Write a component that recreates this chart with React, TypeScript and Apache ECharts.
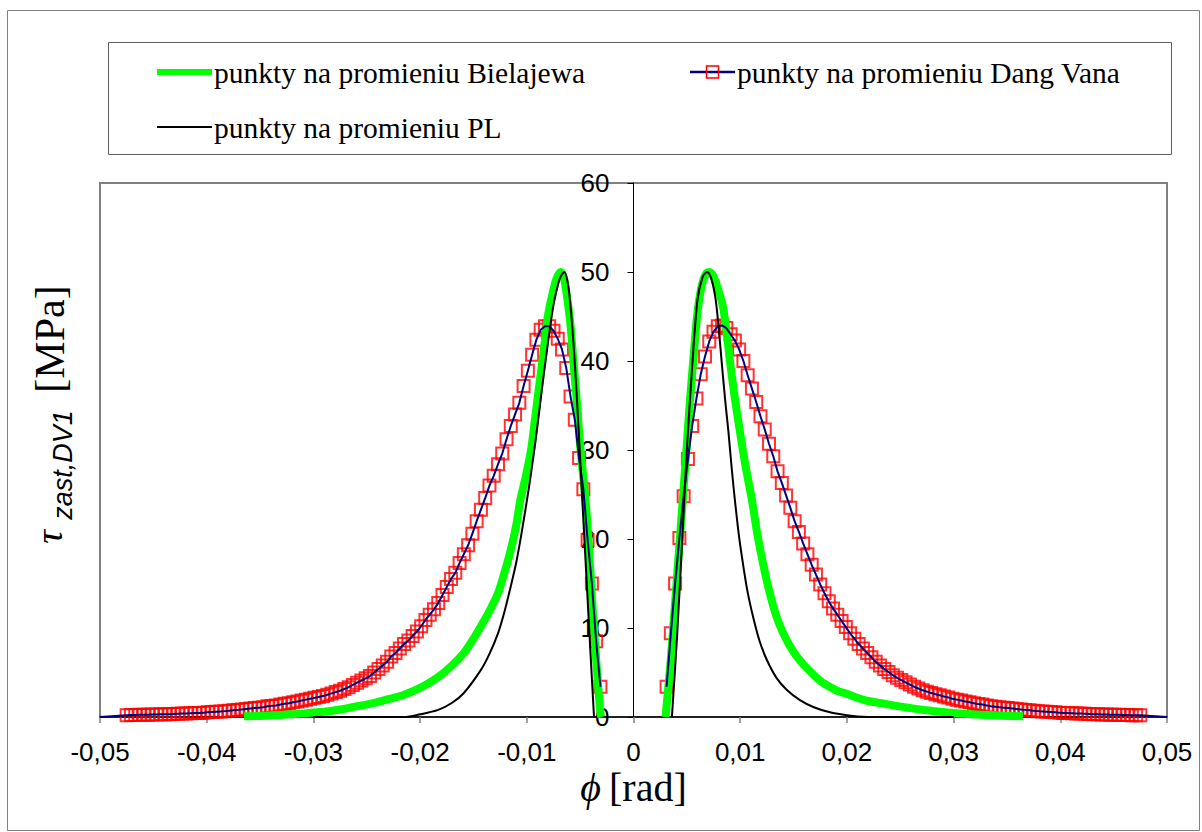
import React, { useEffect, useRef } from "react";
import * as echarts from "echarts";

// phi in units of 1e-4 rad, tau in MPa
const PHI_UNIT = 1e-4;

const xTicks = [-0.05, -0.04, -0.03, -0.02, -0.01, 0, 0.01, 0.02, 0.03, 0.04, 0.05];
const yTicks = [0, 10, 20, 30, 40, 50, 60];

const legendNames = [
  "punkty na promieniu Bielajewa",
  "punkty na promieniu Dang Vana",
  "punkty na promieniu PL",
];

const bielajewaLeft: [number, number][] = [
  [-365, 0.08], [-345, 0.15], [-320, 0.3], [-300, 0.5], [-290, 0.6], [-275, 0.85], [-260, 1.2],
  [-246, 1.5], [-230, 2.0], [-215, 2.5], [-198, 3.4], [-183, 4.5], [-170, 5.8], [-159, 7.2],
  [-151, 8.6], [-143, 10.2], [-135, 11.9], [-127, 13.9], [-121, 16.2], [-115, 18.8], [-110, 21.5],
  [-106, 24.4], [-101, 27.0], [-96, 30], [-93, 32.8], [-90, 35.7], [-87, 38.5], [-84, 41.3],
  [-80, 45.2], [-76, 47.5], [-72, 49.3], [-68, 50], [-65, 49.2], [-62, 47], [-59, 44],
  [-56, 39.5], [-53, 35.3], [-50, 30.5], [-45, 24.4], [-42, 19.5], [-39, 13.5], [-35, 6.5],
  [-31, 0.4], [-30, 0],
];

const bielajewaRight: [number, number][] = [
  [30, 0], [35, 6.5], [40, 14.5], [45, 22.5], [49, 29], [53, 35.7], [57, 41.5], [60, 45.5],
  [64, 48.5], [68, 49.8], [71, 50], [75, 49.5], [80, 47.8], [84, 46], [88, 42.5], [91, 39.4],
  [95, 35.8], [100, 31.9], [105, 28.2], [111, 24.4], [116, 20.6], [122, 16.9], [128, 13.8],
  [134, 11.3], [140, 9.5], [146, 8.1], [153, 6.8], [160, 5.8], [170, 4.6], [178, 3.8],
  [190, 3.0], [200, 2.6], [209, 2.2], [220, 1.8], [235, 1.5], [246, 1.25], [260, 1.0],
  [275, 0.75], [290, 0.55], [300, 0.45], [320, 0.28], [344, 0.15], [365, 0.08],
];

const plLeft: [number, number][] = [
  [-300, 0], [-215, 0], [-200, 0.3], [-183, 0.8], [-170, 1.6], [-159, 2.7], [-143, 5.3],
  [-135, 7.1], [-127, 9.4], [-121, 11.8], [-115, 14.7], [-110, 17.3], [-106, 19.9], [-101, 23.5],
  [-96, 27.4], [-91, 31.8], [-87, 35.7], [-84, 38.6], [-81, 41.3], [-77, 44.8], [-74, 46.9],
  [-69, 49.3], [-65, 50], [-61, 48.3], [-57, 43.2], [-53, 35.7], [-48, 24.4], [-43, 13.2],
  [-40, 6.5], [-37, 0],
];

const plRight: [number, number][] = [
  [36, 0], [41, 9.4], [46, 20.7], [50, 30], [55, 39.4], [60, 46.9], [65, 49.5], [69, 50],
  [73, 49.2], [77, 46.9], [80, 43.5], [83, 39.4], [86, 35.5], [89, 32], [92, 28], [95, 24.4],
  [99, 20.2], [103, 16.9], [107, 14.0], [112, 11.3], [118, 8.6], [125, 6.4], [134, 4.4],
  [144, 3.0], [156, 1.9], [169, 1.1], [185, 0.5], [200, 0.2], [210, 0.05], [220, 0], [300, 0],
];

const dangVanaLeft: [number, number][] = [
  [-475, 0.21], [-471, 0.22], [-467, 0.23], [-463, 0.24], [-459, 0.25], [-455, 0.26], [-451, 0.27],
  [-447, 0.28], [-443, 0.3], [-439, 0.31], [-435, 0.32], [-431, 0.34], [-427, 0.36], [-423, 0.38],
  [-419, 0.4], [-415, 0.42], [-411, 0.44], [-407, 0.46], [-403, 0.49], [-399, 0.52], [-395, 0.55],
  [-391, 0.58], [-387, 0.62], [-383, 0.66], [-379, 0.7], [-375, 0.75], [-371, 0.8], [-367, 0.85],
  [-363, 0.9], [-359, 0.95], [-355, 1.0], [-351, 1.05], [-347, 1.1], [-343, 1.2], [-339, 1.25],
  [-335, 1.3], [-331, 1.4], [-327, 1.5], [-323, 1.55], [-319, 1.65], [-315, 1.75], [-311, 1.85],
  [-307, 1.95], [-303, 2.05], [-299, 2.15], [-295, 2.25], [-291, 2.35], [-287, 2.5], [-283, 2.65],
  [-279, 2.8], [-275, 2.95], [-271, 3.15], [-267, 3.35], [-263, 3.6], [-259, 3.85], [-255, 4.1],
  [-251, 4.35], [-247, 4.6], [-243, 5.0], [-239, 5.4], [-235, 5.8], [-231, 6.2], [-227, 6.8],
  [-223, 7.2], [-219, 7.7], [-215, 8.2], [-211, 8.6], [-207, 9.1], [-203, 9.6], [-199, 10.2],
  [-195, 10.9], [-191, 11.5], [-187, 12.1], [-183, 12.8], [-179, 13.7], [-175, 14.6], [-171, 15.5],
  [-167, 16.2], [-163, 17.3], [-159, 18.3], [-155, 19.3], [-151, 20.6], [-147, 22.0], [-143, 23.3],
  [-139, 24.6], [-135, 26.0], [-131, 27.1], [-127, 28.4], [-123, 29.6], [-119, 31.2], [-115, 32.7],
  [-111, 34.0], [-107, 35.3], [-103, 37.2], [-99, 38.9], [-95, 40.7], [-91, 42.4], [-87, 43.5],
  [-83, 43.9], [-79, 43.9], [-75, 43.4], [-71, 42.5], [-67, 41.3], [-63, 39.2], [-59, 36.0],
  [-55, 33.4], [-51, 29.1], [-47, 25.6], [-43, 19.9], [-39, 15.0], [-35, 8.5], [-31, 3.4],
];

const dangVanaRight: [number, number][] = [
  [31, 3.4], [35, 9.4], [39, 15.0], [43, 20.1], [47, 24.8], [51, 29.0], [55, 32.7], [59, 35.8],
  [63, 38.5], [67, 40.5], [71, 42.2], [75, 43.3], [79, 43.9], [83, 44.0], [87, 43.7], [91, 43.0],
  [95, 42.3], [99, 41.3], [103, 40.0], [107, 38.4], [111, 36.9], [115, 35.4], [119, 33.8],
  [123, 32.3], [127, 30.7], [131, 29.3], [135, 27.6], [139, 26.3], [143, 24.9], [147, 23.5],
  [151, 22.0], [155, 20.8], [159, 19.5], [163, 18.3], [167, 17.1], [171, 16.0], [175, 14.9],
  [179, 13.9], [183, 13.0], [187, 12.2], [191, 11.5], [195, 10.8], [199, 10.1], [203, 9.4],
  [207, 8.8], [211, 8.2], [215, 7.7], [219, 7.2], [223, 6.7], [227, 6.2], [231, 5.8], [235, 5.4],
  [239, 5.05], [243, 4.7], [247, 4.4], [251, 4.15], [255, 3.9], [259, 3.65], [263, 3.4],
  [267, 3.2], [271, 3.0], [275, 2.85], [279, 2.7], [283, 2.55], [287, 2.45], [291, 2.3],
  [295, 2.2], [299, 2.05], [303, 1.95], [307, 1.85], [311, 1.75], [315, 1.65], [319, 1.55],
  [323, 1.45], [327, 1.4], [331, 1.3], [335, 1.2], [339, 1.15], [343, 1.1], [347, 1.05],
  [351, 1.0], [355, 0.95], [359, 0.9], [363, 0.85], [367, 0.8], [371, 0.75], [375, 0.7],
  [379, 0.66], [383, 0.62], [387, 0.58], [391, 0.55], [395, 0.52], [399, 0.49], [403, 0.46],
  [407, 0.44], [411, 0.42], [415, 0.4], [419, 0.38], [423, 0.36], [427, 0.34], [431, 0.32],
  [435, 0.3], [439, 0.29], [443, 0.28], [447, 0.26], [451, 0.25], [455, 0.24], [459, 0.23],
  [463, 0.22], [467, 0.21], [471, 0.2], [475, 0.19],
];

// the Dang Vana line continues along the axis to the plot edges
const dangVanaLineEndLeft: [number, number] = [-500, 0];
const dangVanaLineEndRight: [number, number] = [500, 0];

const GREEN = "#00ff00";
const NAVY = "#000080";
const RED = "#ff0000";

const GRID_LEFT = 100;
const GRID_RIGHT = 35;
const CHART_W = 1202;

const toXY = (pts: [number, number][]) => pts.map(([p, t]) => [p * PHI_UNIT, t]);

const fmtX = (v: number) => {
  if (Math.abs(v) < 1e-9) return "0";
  return v.toFixed(2).replace(".", ",");
};

export default function App() {
  const ref = useRef<HTMLDivElement>(null);

  useEffect(() => {
    if (!ref.current) return;
    const chart = echarts.init(ref.current, undefined, { renderer: "svg" });

    const lineSeries = (data: number[][], color: string, width: number, smooth: number | boolean) => ({
      type: "line",
      data,
      showSymbol: false,
      symbol: "none",
      smooth,
      silent: true,
      lineStyle: { color, width, join: "round", cap: "butt" },
      emphasis: { disabled: true },
    });

    const markerSeries = (data: number[][]) => ({
      type: "scatter",
      data,
      symbol: "rect",
      symbolSize: 12,
      silent: true,
      itemStyle: { color: "rgba(0,0,0,0)", borderColor: RED, borderWidth: 2 },
      emphasis: { disabled: true },
    });

    const serifFont = "'Liberation Serif', 'Times New Roman', serif";
    const sansFont = "'Liberation Sans', Arial, sans-serif";

    // y axis sits at phi = 0, the centre of the plot
    const plotW = CHART_W - GRID_LEFT - GRID_RIGHT;
    const yAxisOffset = -plotW / 2;

    const legendText = (text: string, x: number, y: number) => ({
      type: "text",
      silent: true,
      x,
      y,
      style: {
        text,
        fontSize: 29.5,
        fontFamily: serifFont,
        fill: "#000",
        verticalAlign: "middle",
        textVerticalAlign: "middle",
      },
    });

    const rotText = (text: string, x: number, y: number, size: number, family: string, italic: boolean) => ({
      type: "text",
      silent: true,
      x,
      y,
      rotation: Math.PI / 2,
      style: {
        text,
        fontSize: size,
        fontStyle: italic ? "italic" : "normal",
        fontFamily: family,
        fill: "#000",
        align: "center",
        textAlign: "center",
        verticalAlign: "middle",
        textVerticalAlign: "middle",
      },
    });

    const option: any = {
      animation: false,
      backgroundColor: "#ffffff",
      grid: {
        left: GRID_LEFT,
        right: GRID_RIGHT,
        top: 183,
        bottom: 115,
        show: true,
        borderColor: "#808080",
        borderWidth: 2,
        backgroundColor: "rgba(0,0,0,0)",
      },
      xAxis: {
        type: "value",
        min: xTicks[0],
        max: xTicks[xTicks.length - 1],
        interval: 0.01,
        splitLine: { show: false },
        axisLine: { onZero: false, lineStyle: { color: "#000", width: 1.5 } },
        axisTick: { show: true, length: 6, lineStyle: { color: "#808080", width: 1.5 } },
        axisLabel: {
          formatter: (v: number) => fmtX(v),
          color: "#000",
          fontSize: 26,
          fontFamily: sansFont,
          margin: 22,
          lineHeight: 26,
        },
        name: "{phi|ϕ}{u|[rad]}",
        nameLocation: "middle",
        nameGap: 50,
        nameMoveOverlap: false,
        nameTextStyle: {
          color: "#000",
          rich: {
            phi: { fontFamily: serifFont, fontStyle: "italic", fontSize: 40, lineHeight: 40, color: "#000", padding: [0, 8, 0, 0] },
            u: { fontFamily: serifFont, fontSize: 40, lineHeight: 40, color: "#000" },
          },
        },
      },
      yAxis: {
        type: "value",
        position: "left",
        offset: yAxisOffset,
        min: yTicks[0],
        max: yTicks[yTicks.length - 1],
        interval: 10,
        splitLine: { show: false },
        axisLine: { show: true, onZero: false, lineStyle: { color: "#000", width: 1 } },
        axisTick: { show: true, length: 6, lineStyle: { color: "#000", width: 1 } },
        axisLabel: { color: "#000", fontSize: 26, fontFamily: sansFont, margin: 24 },
      },
      graphic: [
        {
          type: "rect",
          silent: true,
          z: -10,
          shape: { x: 7.5, y: 10.5, width: 1192, height: 820 },
          style: { fill: "rgba(0,0,0,0)", stroke: "#808080", lineWidth: 1 },
        },
        {
          type: "rect",
          silent: true,
          shape: { x: 108.5, y: 42.5, width: 1063, height: 112 },
          style: { fill: "#ffffff", stroke: "#606060", lineWidth: 1 },
        },
        {
          type: "line",
          silent: true,
          shape: { x1: 157, y1: 72, x2: 212, y2: 72 },
          style: { stroke: GREEN, lineWidth: 6 },
        },
        legendText(legendNames[0], 214, 73),
        {
          type: "line",
          silent: true,
          shape: { x1: 690, y1: 72, x2: 735, y2: 72 },
          style: { stroke: NAVY, lineWidth: 2.5 },
        },
        {
          type: "rect",
          silent: true,
          shape: { x: 706.5, y: 66, width: 12, height: 12 },
          style: { fill: "rgba(0,0,0,0)", stroke: RED, lineWidth: 1.5 },
        },
        legendText(legendNames[1], 737, 73),
        {
          type: "line",
          silent: true,
          shape: { x1: 157, y1: 127, x2: 212, y2: 127 },
          style: { stroke: "#000", lineWidth: 2 },
        },
        legendText(legendNames[2], 214, 128),
        // y-axis title, rotated
        rotText("τ", 49, 537, 38, serifFont, true),
        rotText("zast,DV1", 63, 465, 27, sansFont, true),
        rotText("[MPa]", 50, 339, 42, serifFont, false),
      ],
      series: [
        lineSeries(toXY(bielajewaLeft), GREEN, 8, 0.3),
        lineSeries(toXY(bielajewaRight), GREEN, 8, 0.3),
        lineSeries(toXY([dangVanaLineEndLeft, ...dangVanaLeft]), NAVY, 2, false),
        lineSeries(toXY([...dangVanaRight, dangVanaLineEndRight]), NAVY, 2, false),
        markerSeries(toXY(dangVanaLeft)),
        markerSeries(toXY(dangVanaRight)),
        lineSeries(toXY(plLeft), "#000000", 2, 0.3),
        lineSeries(toXY(plRight), "#000000", 2, 0.3),
      ],
    };

    chart.setOption(option);
    return () => chart.dispose();
  }, []);

  return (
    <div
      ref={ref}
      style={{ position: "absolute", left: 0, top: 0, width: CHART_W, height: 832, background: "#fff" }}
    />
  );
}
